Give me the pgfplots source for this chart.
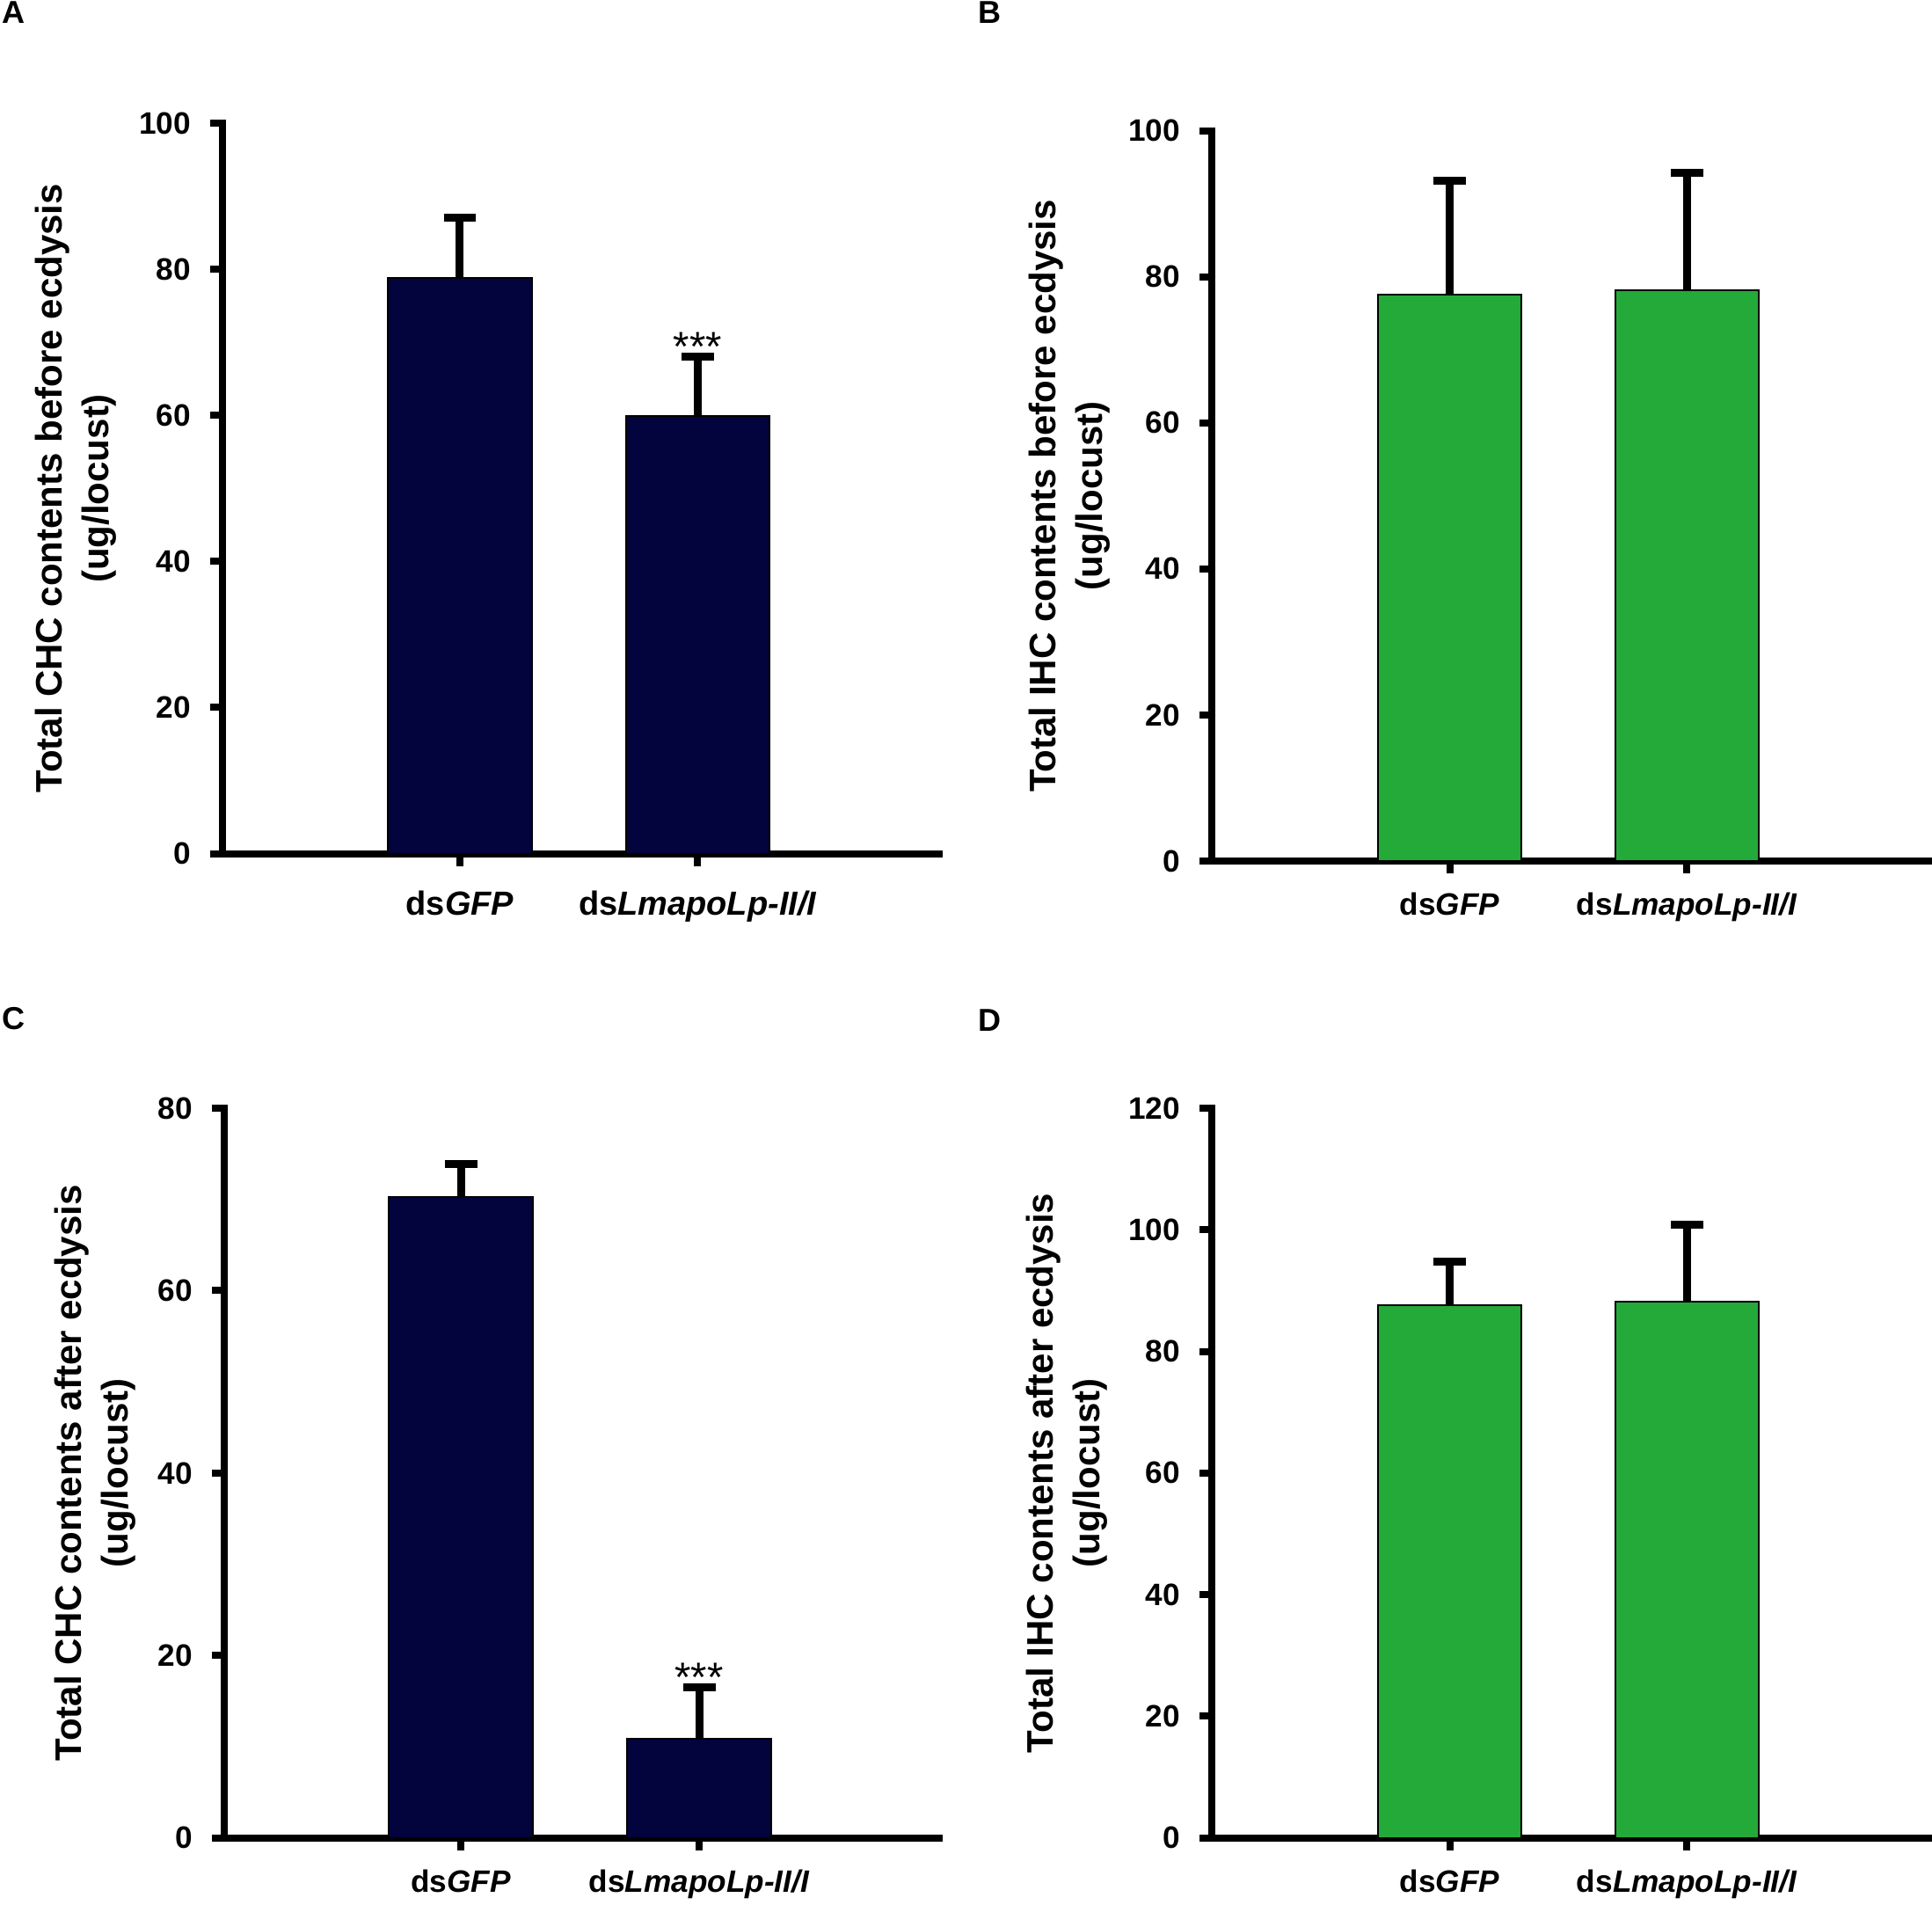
\documentclass[border=0pt]{standalone}
\usepackage{fontspec}
\setmainfont{Liberation Sans}
\usepackage{pgfplots}
\pgfplotsset{compat=1.18}

\definecolor{navybar}{RGB}{3,3,62}
\definecolor{greenbar}{RGB}{35,170,57}

\pgfplotsset{
  panel/.style={
    scale only axis,
    axis lines=left,
    axis line style={-, line width=2pt, line cap=rect},
    every outer x axis line/.append style={-},
    every outer y axis line/.append style={-},
    tick align=outside,
    major tick length=3.5pt,
    tick style={black, line width=2pt},
    minor tick num=0,
    xtick={0,1},
    xticklabels={ds\textit{GFP}, ds\textit{LmapoLp-II/I}},
    ymin=0,
    enlargelimits=false,
    clip=false,
    /pgf/number format/assume math mode=true,
    yticklabel style={font=\bfseries\fontsize{8.8}{10}\selectfont, xshift=-2pt},
    xticklabel style={font=\bfseries\fontsize{8.8}{10}\selectfont, anchor=base, yshift=-11.9pt},
    ylabel style={anchor=center, align=center, font=\bfseries\fontsize{10.5}{13.25}\selectfont},
    ybar, bar width=0.605,
  },
  errs/.style={
    draw=black, line width=0.5pt,
    error bars/.cd, y dir=plus, y explicit,
    error bar style={line width=2.25pt, black},
    error mark=|,
    error mark options={line width=2.25pt, mark size=4.6pt, black},
  },
}

\begin{document}
\begin{tikzpicture}
\path[use as bounding box] (0,0) rectangle (549.25pt,-541.25pt);

% Panel letters
\node[anchor=north west, inner sep=0pt, font=\bfseries\fontsize{9}{10}\selectfont] at (0.4pt,-0.3pt) {A};
\node[anchor=north west, inner sep=0pt, font=\bfseries\fontsize{9}{10}\selectfont] at (278pt,-0.3pt) {B};
\node[anchor=north west, inner sep=0pt, font=\bfseries\fontsize{9}{10}\selectfont] at (0.4pt,-286.25pt) {C};
\node[anchor=north west, inner sep=0pt, font=\bfseries\fontsize{9}{10}\selectfont] at (278pt,-286.75pt) {D};

% Panel A
\begin{axis}[panel,
  at={(63.25pt,-242.625pt)}, anchor=south west,
  width=203.75pt, height=207.575pt,
  xmin=-0.998, xmax=2.015, ymax=100, ytick={0,20,...,100},
  xticklabel style={font=\bfseries\fontsize{9.5}{11}\selectfont, yshift=-2pt},
  ylabel style={at={(axis description cs:-0.205,0.5)}},
  ylabel={Total CHC contents before ecdysis\\(ug/locust)}]
\addplot[fill=navybar, errs] coordinates {(0,78.8) +- (0,8.3) (1,59.9) +- (0,8.1)};
\node[font=\fontsize{11.8}{12}\selectfont, anchor=base, yshift=-1.2pt] at (axis cs:1,68.0) {***};
\end{axis}

% Panel B
\begin{axis}[panel,
  at={(344.5pt,-244.75pt)}, anchor=south west,
  width=203.75pt, height=207.6pt,
  xmin=-1.003, xmax=2.018, ymax=100, ytick={0,20,...,100},
  ylabel style={at={(axis description cs:-0.199,0.5)}},
  ylabel={Total IHC contents before ecdysis\\(ug/locust)}]
\addplot[fill=greenbar, errs] coordinates {(0,77.5) +- (0,15.6) (1,78.2) +- (0,16.0)};
\end{axis}

% Panel C
\begin{axis}[panel,
  at={(63.75pt,-522.425pt)}, anchor=south west,
  width=203.25pt, height=207.425pt,
  xmin=-0.993, xmax=2.007, ymax=80, ytick={0,20,...,80},
  ylabel style={at={(axis description cs:-0.18,0.5)}},
  ylabel={Total CHC contents after ecdysis\\(ug/locust)}]
\addplot[fill=navybar, errs] coordinates {(0,70.3) +- (0,3.6) (1,10.9) +- (0,5.6)};
\node[font=\fontsize{11.8}{12}\selectfont, anchor=base, yshift=-1.2pt] at (axis cs:1,16.5) {***};
\end{axis}

% Panel D
\begin{axis}[panel,
  at={(344.5pt,-522.425pt)}, anchor=south west,
  width=203.75pt, height=207.425pt,
  xmin=-1.003, xmax=2.018, ymax=120, ytick={0,20,...,120},
  ylabel style={at={(axis description cs:-0.202,0.5)}},
  ylabel={Total IHC contents after ecdysis\\(ug/locust)}]
\addplot[fill=greenbar, errs] coordinates {(0,87.6) +- (0,7.2) (1,88.2) +- (0,12.7)};
\end{axis}
\end{tikzpicture}
\end{document}
